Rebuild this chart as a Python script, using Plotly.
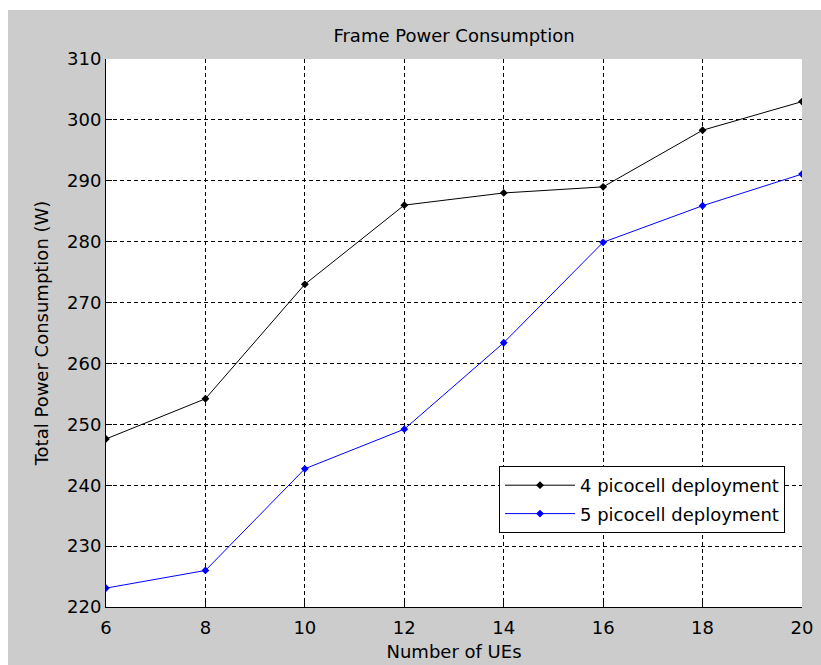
import plotly.graph_objects as go

ues = [6, 8, 10, 12, 14, 16, 18, 20]
power_4pico = [247.6, 254.2, 273.0, 286.0, 288.0, 289.0, 298.3, 303.0]
power_5pico = [223.1, 226.0, 242.7, 249.2, 263.4, 279.9, 285.9, 291.1]
series_names = ["4 picocell deployment", "5 picocell deployment"]
x_ticks = [6, 8, 10, 12, 14, 16, 18, 20]
y_ticks = [220, 230, 240, 250, 260, 270, 280, 290, 300, 310]

W, H = 821, 665
L, R, T, B = 106, 19, 59, 58
PW, PH = W - L - R, H - T - B
FONT = "DejaVu Sans"

fig = go.Figure()
fig.add_trace(go.Scatter(x=ues, y=power_4pico, mode="lines+markers", name=series_names[0],
                         legendgroup="a",
                         line=dict(color="black", width=1),
                         marker=dict(color="black", size=6, symbol="diamond")))
fig.add_trace(go.Scatter(x=ues, y=power_5pico, mode="lines+markers", name=series_names[1],
                         legendgroup="b",
                         line=dict(color="#0000ff", width=1),
                         marker=dict(color="#0000ff", size=6, symbol="diamond")))

axis_common = dict(
    showgrid=True, gridcolor="black", gridwidth=1, griddash="4px,3px",
    showline=True, linecolor="black", linewidth=1, mirror=False,
    ticks="inside", ticklen=6, tickcolor="black", tickwidth=1,
    zeroline=False, automargin=False,
    tickfont=dict(family=FONT, size=18, color="black"),
)

fig.update_layout(
    template="none",
    autosize=False,
    width=W, height=H,
    margin=dict(l=L, r=R, t=T, b=B, pad=0),
    paper_bgcolor="#cccccc", plot_bgcolor="white",
    font=dict(family=FONT, size=18, color="black"),
    title=dict(text="Frame Power Consumption", x=0.5, xref="paper",
               y=1 - 36 / H, yref="container", yanchor="middle", xanchor="center",
               font=dict(family=FONT, size=18, color="black")),
    xaxis=dict(range=[6, 20], tickvals=x_ticks, ticklabelstandoff=4,
               title=dict(text="Number of UEs", standoff=8,
                          font=dict(family=FONT, size=18)),
               **axis_common),
    yaxis=dict(range=[220, 310], tickvals=y_ticks, ticklabelstandoff=0,
               title=dict(text="Total Power Consumption (W)", standoff=13,
                          font=dict(family=FONT, size=18)),
               **axis_common),
    showlegend=True,
    legend=dict(x=(499 - L) / PW, y=1 - (466 - T) / PH, xanchor="left", yanchor="top",
                bgcolor="white", bordercolor="black", borderwidth=1,
                font=dict(family=FONT, size=18, color="black"),
                traceorder="grouped", tracegroupgap=2, itemwidth=70,
                entrywidth=225, entrywidthmode="pixels"),
    shapes=[
        dict(type="rect", xref="paper", yref="paper",
             x0=-L / PW, x1=(W - L) / PW, y0=1 + (T - 10) / PH, y1=1 + T / PH,
             fillcolor="white", line=dict(width=0), layer="below"),
        dict(type="rect", xref="paper", yref="paper",
             x0=-L / PW, x1=-(L - 8) / PW, y0=-B / PH, y1=1 + T / PH,
             fillcolor="white", line=dict(width=0), layer="below"),
    ],
)

fig.write_html(
    "out.html",
    config={"displayModeBar": False, "responsive": False},
    post_script="document.body.style.margin='0';document.body.style.overflow='hidden';",
)
